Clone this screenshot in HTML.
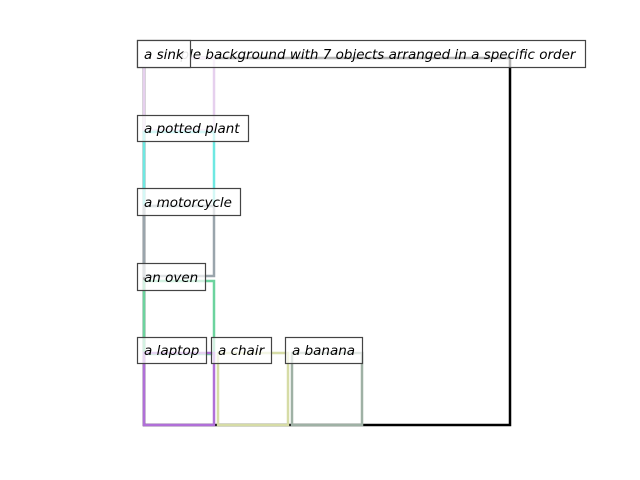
<!DOCTYPE html>
<html><head><meta charset="utf-8"><style>
html,body{margin:0;padding:0;background:#fff;width:640px;height:480px;overflow:hidden}
text{font-family:"DejaVu Sans","Liberation Sans",sans-serif;font-style:italic;font-size:13.5px;fill:#000;fill-opacity:1;stroke:none}
</style></head><body>
<svg width="640" height="480" viewBox="0 0 640 480" xmlns="http://www.w3.org/2000/svg">
<g fill="none" stroke-width="2.5">
<rect x="144" y="58" width="366" height="367" stroke="#000" stroke-width="2.5"/>
<rect x="144" y="58" width="70" height="72" stroke="#e6d0ee"/>
<rect x="144" y="132" width="70" height="74" stroke="#6ee8e2"/>
<rect x="144" y="206" width="70" height="70" stroke="#9aa5ac"/>
<rect x="144" y="281" width="70" height="73" stroke="#6cd39e"/>
<rect x="144" y="353" width="70" height="72" stroke="#b06fd8"/>
<rect x="218" y="353" width="70" height="72" stroke="#d6dca6"/>
<rect x="292" y="353" width="70" height="72" stroke="#9fb1a5"/>
</g>
<g stroke="#444" stroke-width="1.2" fill="#fff" fill-opacity="0.7">
<rect x="137.5" y="40.5" width="448" height="27"/>
<text x="144" y="59">a simple background with 7 objects arranged in a specific order</text>
<rect x="137.5" y="40.5" width="53" height="27" fill-opacity="0.9"/>
<text x="144" y="59">a sink</text>
<rect x="137.5" y="115.5" width="111" height="26"/>
<text x="144" y="133">a potted plant</text>
<rect x="137.5" y="188.5" width="103" height="27"/>
<text x="144" y="207">a motorcycle</text>
<rect x="137.5" y="263.5" width="68" height="27"/>
<text x="144" y="282">an oven</text>
<rect x="137.5" y="337.5" width="69" height="26"/>
<text x="144" y="355">a laptop</text>
<rect x="211.5" y="337.5" width="60" height="26"/>
<text x="218" y="355">a chair</text>
<rect x="285.5" y="337.5" width="77" height="26"/>
<text x="292" y="355">a banana</text>
</g>
</svg>
</body></html>
